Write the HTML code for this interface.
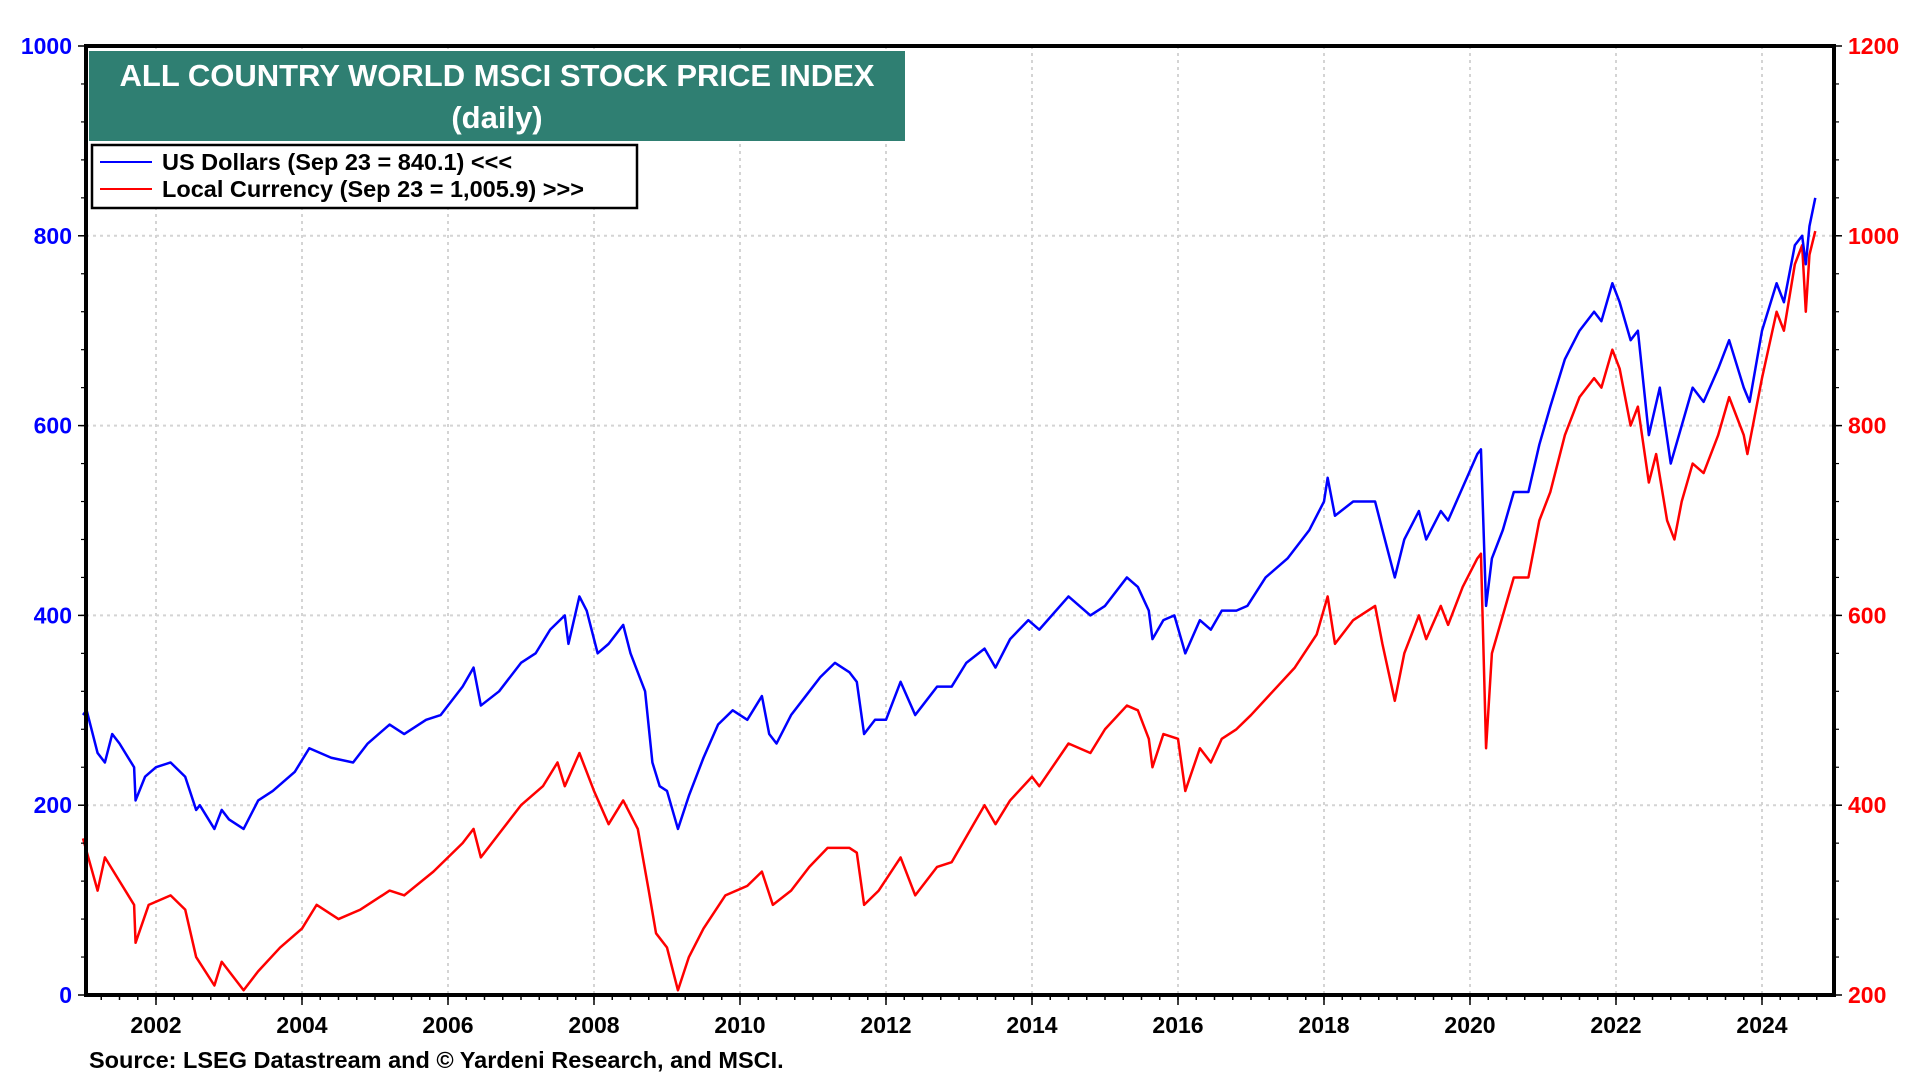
<!DOCTYPE html>
<html><head><meta charset="utf-8"><style>
body{margin:0;background:#fff;width:1920px;height:1080px;overflow:hidden;font-family:"Liberation Sans",sans-serif}
svg text{font-family:"Liberation Sans",sans-serif;font-weight:bold}
</style></head><body>
<svg id="chart" width="1920" height="1080" xmlns="http://www.w3.org/2000/svg">
<g id="grid"></g>
<g id="series"></g>
<g id="axes"></g>
<rect x="89" y="51" width="816" height="90" fill="#2f7f72"/>
<text x="497" y="86" fill="#fff" font-size="31" text-anchor="middle">ALL COUNTRY WORLD MSCI STOCK PRICE INDEX</text>
<text x="497" y="128" fill="#fff" font-size="31" text-anchor="middle">(daily)</text>
<g>
<rect x="92" y="145" width="545" height="63" fill="#fff" stroke="#000" stroke-width="2.5"/>
<line x1="100" y1="162" x2="152" y2="162" stroke="#0000ff" stroke-width="2"/>
<text x="162" y="170" font-size="23.5">US Dollars (Sep 23 = 840.1) &lt;&lt;&lt;</text>
<line x1="100" y1="189" x2="152" y2="189" stroke="#ff0000" stroke-width="2"/>
<text x="162" y="197" font-size="23.5">Local Currency (Sep 23 = 1,005.9) &gt;&gt;&gt;</text>
</g>
<text x="89" y="1068" font-size="23.5">Source: LSEG Datastream and © Yardeni Research, and MSCI.</text>
</svg>
<script>
const usdT=[2001.0,2001.05,2001.2,2001.3,2001.4,2001.5,2001.7,2001.72,2001.85,2002.0,2002.2,2002.4,2002.55,2002.6,2002.8,2002.9,2003.0,2003.2,2003.4,2003.6,2003.9,2004.1,2004.4,2004.7,2004.9,2005.2,2005.4,2005.7,2005.9,2006.2,2006.35,2006.45,2006.7,2007.0,2007.2,2007.4,2007.6,2007.65,2007.8,2007.9,2008.05,2008.2,2008.4,2008.5,2008.7,2008.8,2008.9,2009.0,2009.15,2009.3,2009.5,2009.7,2009.9,2010.1,2010.3,2010.4,2010.5,2010.7,2010.9,2011.1,2011.3,2011.5,2011.6,2011.7,2011.85,2012.0,2012.2,2012.4,2012.5,2012.7,2012.9,2013.1,2013.35,2013.5,2013.7,2013.95,2014.1,2014.5,2014.8,2015.0,2015.3,2015.45,2015.6,2015.65,2015.8,2015.95,2016.1,2016.3,2016.45,2016.6,2016.8,2016.95,2017.2,2017.5,2017.8,2018.0,2018.05,2018.15,2018.4,2018.7,2018.8,2018.97,2019.1,2019.3,2019.4,2019.6,2019.7,2019.9,2020.1,2020.15,2020.22,2020.3,2020.45,2020.6,2020.8,2020.95,2021.1,2021.3,2021.5,2021.7,2021.8,2021.95,2022.05,2022.2,2022.3,2022.45,2022.6,2022.75,2022.9,2023.05,2023.2,2023.4,2023.55,2023.75,2023.83,2024.0,2024.2,2024.3,2024.45,2024.55,2024.6,2024.65,2024.73];
const usdV=[295,300,255,245,275,265,240,205,230,240,245,230,195,200,175,195,185,175,205,215,235,260,250,245,265,285,275,290,295,325,345,305,320,350,360,385,400,370,420,405,360,370,390,360,320,245,220,215,175,210,250,285,300,290,315,275,265,295,315,335,350,340,330,275,290,290,330,295,305,325,325,350,365,345,375,395,385,420,400,410,440,430,405,375,395,400,360,395,385,405,405,410,440,460,490,520,545,505,520,520,490,440,480,510,480,510,500,535,570,575,410,460,490,530,530,580,620,670,700,720,710,750,730,690,700,590,640,560,600,640,625,660,690,640,625,700,750,730,790,800,770,810,840];
const lcT=[2001.0,2001.2,2001.3,2001.5,2001.7,2001.72,2001.9,2002.2,2002.4,2002.55,2002.8,2002.9,2003.2,2003.4,2003.7,2004.0,2004.2,2004.5,2004.8,2005.2,2005.4,2005.8,2006.2,2006.35,2006.45,2006.7,2007.0,2007.3,2007.5,2007.6,2007.8,2008.0,2008.2,2008.4,2008.6,2008.75,2008.85,2009.0,2009.15,2009.3,2009.5,2009.8,2010.1,2010.3,2010.45,2010.7,2010.95,2011.2,2011.5,2011.6,2011.7,2011.9,2012.2,2012.4,2012.7,2012.9,2013.2,2013.35,2013.5,2013.7,2014.0,2014.1,2014.5,2014.8,2015.0,2015.3,2015.45,2015.6,2015.65,2015.8,2016.0,2016.1,2016.3,2016.45,2016.6,2016.8,2017.0,2017.3,2017.6,2017.9,2018.05,2018.15,2018.4,2018.7,2018.8,2018.97,2019.1,2019.3,2019.4,2019.6,2019.7,2019.9,2020.1,2020.15,2020.22,2020.3,2020.45,2020.6,2020.8,2020.95,2021.1,2021.3,2021.5,2021.7,2021.8,2021.95,2022.05,2022.2,2022.3,2022.45,2022.55,2022.7,2022.8,2022.9,2023.05,2023.2,2023.4,2023.55,2023.75,2023.8,2024.0,2024.2,2024.3,2024.45,2024.55,2024.6,2024.65,2024.73];
const lcV=[365,310,345,320,295,255,295,305,290,240,210,235,205,225,250,270,295,280,290,310,305,330,360,375,345,370,400,420,445,420,455,415,380,405,375,310,265,250,205,240,270,305,315,330,295,310,335,355,355,350,295,310,345,305,335,340,380,400,380,405,430,420,465,455,480,505,500,470,440,475,470,415,460,445,470,480,495,520,545,580,620,570,595,610,570,510,560,600,575,610,590,630,660,665,460,560,600,640,640,700,730,790,830,850,840,880,860,800,820,740,770,700,680,720,760,750,790,830,790,770,850,920,900,970,990,920,980,1005];
const yearLabels=[2002,2004,2006,2008,2010,2012,2014,2016,2018,2020,2022,2024];
const leftTicks=[0,200,400,600,800,1000];
const rightTicks=[200,400,600,800,1000,1200];

const L=86,R=1834,T=46,B=995;
const x=t=>1470+(t-2020)*73;
const yl=v=>B-(v/1000)*(B-T);
const yr=v=>B-((v-200)/1000)*(B-T);
const NS='http://www.w3.org/2000/svg';
function mk(tag,parent,attrs){const e=document.createElementNS(NS,tag);for(const k in attrs)e.setAttribute(k,attrs[k]);parent.appendChild(e);return e;}
const grid=document.getElementById('grid'),axes=document.getElementById('axes'),ser=document.getElementById('series');
yearLabels.forEach(y=>{
 const g=mk('line',grid,{x1:x(y),x2:x(y),y1:T,y2:B,stroke:'#d4d4d4','stroke-width':2,'stroke-dasharray':'3,4'});
 
 
 const t=mk('text',axes,{x:x(y),y:B+38,'font-size':23,'text-anchor':'middle',fill:'#000'});
 t.textContent=y;
 
 
 mk('line',axes,{x1:x(y),x2:x(y),y1:B,y2:B+10,stroke:'#000','stroke-width':1.5});
});
for(let q=2001.25;q<2025;q+=0.25){mk('line',axes,{x1:x(q),x2:x(q),y1:B,y2:B+5,stroke:'#000','stroke-width':1.5});}
leftTicks.forEach(v=>{
 if(v>0&&v<1000){const g=mk('line',grid,{x1:L,x2:R,y1:yl(v),y2:yl(v),stroke:'#d4d4d4','stroke-width':2,'stroke-dasharray':'3,4'});
 
 }
 const t=mk('text',axes,{x:L-14,y:yl(v)+8,'font-size':23,'text-anchor':'end',fill:'#0000ff'});
 t.textContent=v;
 
 
 mk('line',axes,{x1:L-8,x2:L,y1:yl(v),y2:yl(v),stroke:'#000','stroke-width':1.5});
});
for(let v=40;v<1000;v+=40){mk('line',axes,{x1:L-5,x2:L,y1:yl(v),y2:yl(v),stroke:'#000','stroke-width':1.2});mk('line',axes,{x1:R,x2:R+5,y1:yl(v),y2:yl(v),stroke:'#000','stroke-width':1.2});}
rightTicks.forEach(v=>{
 const t=mk('text',axes,{x:R+14,y:yr(v)+8,'font-size':23,'text-anchor':'start',fill:'#ff0000'});
 t.textContent=v;
 
 
 mk('line',axes,{x1:R,x2:R+8,y1:yr(v),y2:yr(v),stroke:'#000','stroke-width':1.5});
});
const frame=mk('rect',axes,{x:L,y:T,width:R-L,height:B-T,fill:'none',stroke:'#000','stroke-width':4});


const lc=mk('polyline',ser,{points:lcT.map((t,i)=>x(t)+','+yr(lcV[i])).join(' '),fill:'none',stroke:'#ff0000','stroke-width':2.5,'stroke-linejoin':'round'});


const us=mk('polyline',ser,{points:usdT.map((t,i)=>x(t)+','+yl(usdV[i])).join(' '),fill:'none',stroke:'#0000ff','stroke-width':2.5,'stroke-linejoin':'round'});


</script>
</body></html>
